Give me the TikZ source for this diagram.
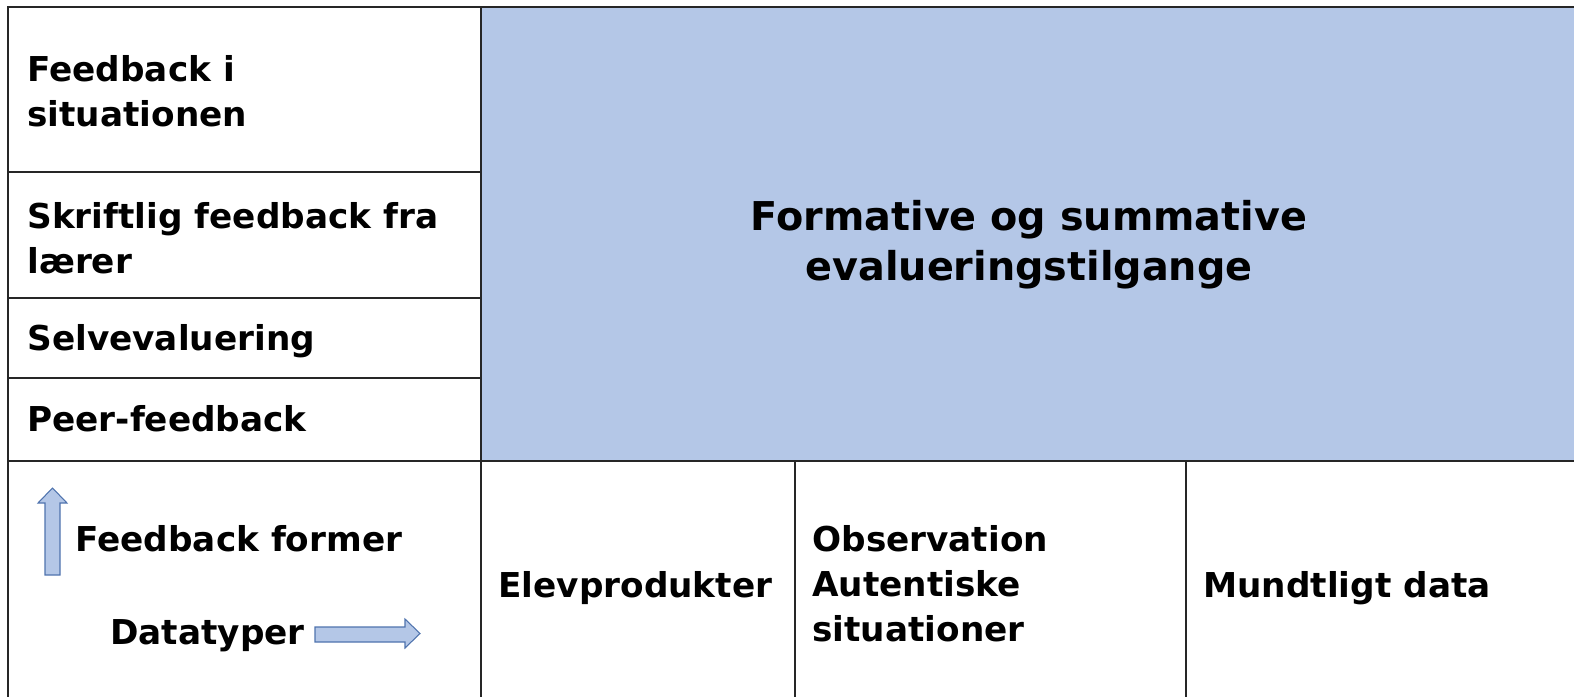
\documentclass[tikz,border=0pt]{standalone}
\usepackage{fontspec}
\setmainfont{DejaVu Sans}
\usetikzlibrary{positioning}
\definecolor{cellblue}{HTML}{B4C7E7}
\definecolor{arrowline}{HTML}{4F73AE}

\begin{document}
\begin{tikzpicture}[x=0.02cm,y=-0.02cm,
    grid/.style={draw=black!85, line width=1.1pt},
    celltext/.style={font=\fontsize{19.5}{25.5}\selectfont\bfseries, align=left, anchor=west, inner sep=0pt},
    titletext/.style={font=\fontsize{22.6}{28.5}\selectfont\bfseries, align=center, inner sep=0pt},
    blockarrow/.style={draw=arrowline, fill=cellblue, line width=0.6pt, line join=miter}]
    \useasboundingbox (0,0) rectangle (1574,697);
    \coordinate (TL) at (8,7);
    \coordinate (TM) at (481,7);
    \coordinate (TR) at (1574,7);
    \coordinate (ML) at (8,461);
    \coordinate (MM) at (481,461);
    \coordinate (MR) at (1574,461);
    \coordinate (BL) at (8,697);
    \coordinate (BM) at (481,697);
    
    \fill [cellblue] (TM) rectangle (MR);
    \draw [grid] (TR) -- (TL) -- (BL)
    (TM) -- (BM);
    \draw [grid, line width=1.5pt] (ML) -- (MR);
    \foreach \y in {172,298,378}
    {
        \draw [grid] (8,\y) -- (481,\y);
    };
    \foreach \x in {795,1186}
    {
        \draw [grid] (\x,461) -- (\x,697);
    };
    
    \node [titletext] (title) at (1029,245) {Formative og summative\\evalueringstilgange};
    
    \foreach \n/\x/\y/\t in 
    {fsit/27/91/{Feedback i\\situationen},
        fskr/27/238/{Skriftlig feedback fra\\lærer},
        fsel/27/341/Selvevaluering,
        fpeer/27/419/Peer-feedback,
        former/75/539/Feedback former,
        dtyp/110/636/Datatyper,
        elev/498/588/Elevprodukter,
        obs/812/584/{Observation\\Autentiske\\situationer},
        mund/1203/588/Mundtligt data
    }
    {
        \node [celltext] (\n) at (\x,\y) {\t};
    };
    
    % feedback former / datatyper arrows
    \draw [blockarrow] (45,575) -- (45,503) -- (38,503) -- (52.5,488) -- (67,503) -- (60,503) -- (60,575) -- cycle;
    \draw [blockarrow] (315,627) -- (405,627) -- (405,619) -- (420,633.5) -- (405,648) -- (405,642) -- (315,642) -- cycle;
\end{tikzpicture}
\end{document}
